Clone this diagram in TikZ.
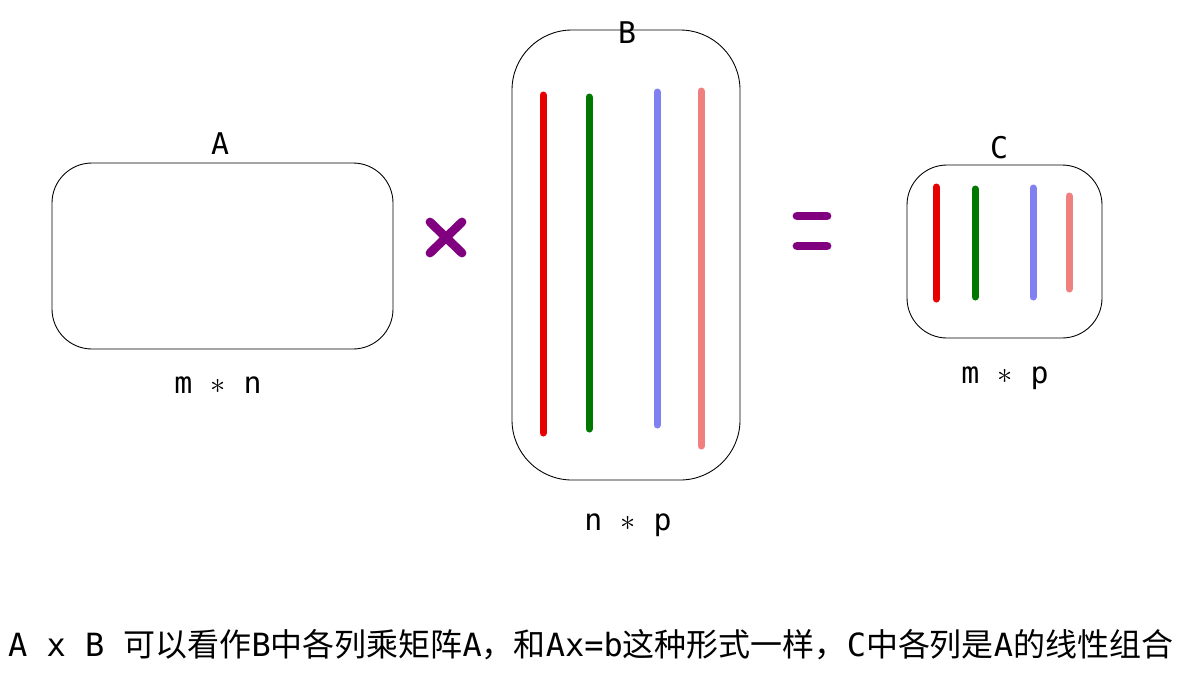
\documentclass[tikz,border=0pt]{standalone}
\usepackage{fontspec}
\setmainfont{DejaVu Sans Mono}
\newfontfamily\cjk{Noto Sans CJK SC}
\usetikzlibrary{positioning}
\definecolor{xpurple}{RGB}{128,0,128}
\definecolor{xblue}{RGB}{128,128,240}
\definecolor{xpink}{RGB}{240,128,128}
\definecolor{xgreen}{RGB}{0,120,0}
\definecolor{xred}{RGB}{230,0,0}
\begin{document}
\begin{tikzpicture}[x=0.02cm,y=-0.02cm,
    matbox/.style={draw=black,line width=0.5pt},
    col/.style={line width=0.14cm,line cap=round},
    lbl/.style={font=\fontsize{17}{20}\selectfont}]
        \useasboundingbox (0,0) rectangle (1182,687);
        
        % matrices
        \draw[matbox,rounded corners=0.8cm] (52,163) rectangle (393,349);
        \draw[matbox,rounded corners=1.2cm] (512,30) rectangle (740,480);
        \draw[matbox,rounded corners=0.8cm] (907,165) rectangle (1102,338);
        
        \node[lbl] (A) at (220,144) {A};
        \node[lbl] (B) at (627,33) {B};
        \node[lbl] (C) at (999,148) {C};
        \node[lbl] (mn) at (218,385) {m $\ast$ n};
        \node[lbl] (np) at (628,525) {n $\ast$ p};
        \node[lbl] (mp) at (1005,378) {m $\ast$ p};
        
        % columns of B
        \draw[col,xred] (543,95) -- (543,433);
        \draw[col,xgreen] (589,97) -- (589,429);
        \draw[col,xblue] (657,92) -- (657,425);
        \draw[col,xpink] (701,91) -- (701,446);
        
        % columns of C
        \draw[col,xred] (936,187) -- (936,299);
        \draw[col,xgreen] (975,189) -- (975,297);
        \draw[col,xblue] (1033,188) -- (1033,297);
        \draw[col,xpink] (1069,196) -- (1069,289);
        
        % operators
        \draw[xpurple,line width=5pt,line cap=round] (430,222) -- (462,253) (462,222) -- (430,253);
        \draw[xpurple,line width=5pt,line cap=round] (797,216) -- (827,216) (797,246) -- (827,246);
        
        \node[lbl,anchor=west,font=\fontsize{18.2}{21}\selectfont] (note) at (2,645) {A x B {\cjk 可以看作}B{\cjk 中各列乘矩阵}A{\cjk ，和}Ax=b{\cjk 这种形式一样，}C{\cjk 中各列是}A{\cjk 的线性组合}};
\end{tikzpicture}
\end{document}
